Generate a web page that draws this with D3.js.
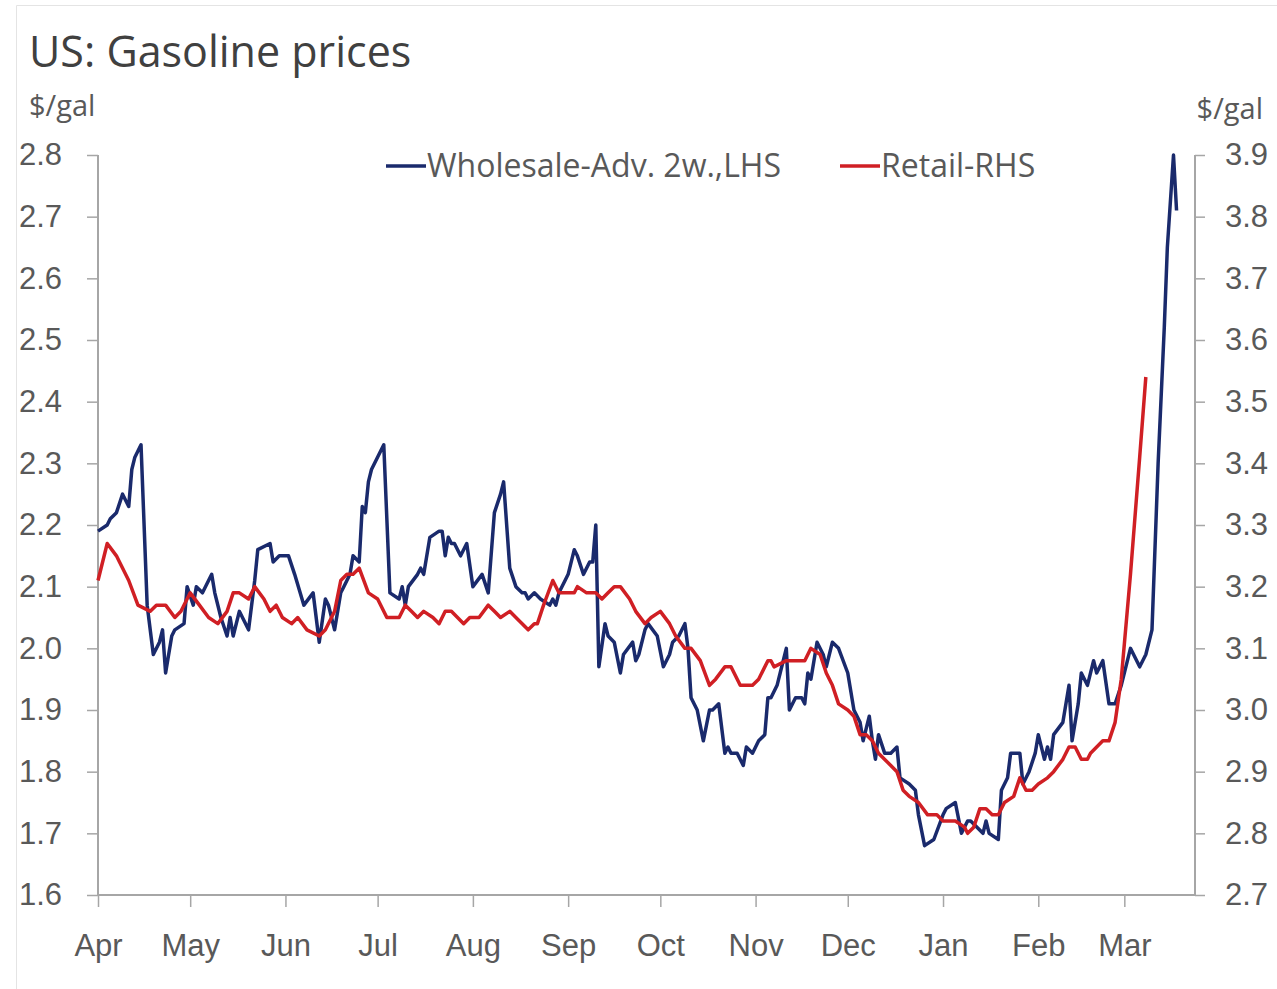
<!DOCTYPE html>
<meta charset="utf-8">
<title>US: Gasoline prices</title>
<style>
body { margin: 0; background: #fff; }
svg { display: block; font-family: "Open Sans", "Noto Sans", sans-serif; }
.tick text { fill: #595959; }
</style>
<body>
<svg></svg>
<script src="https://d3js.org/d3.v7.min.js"></script>
<script>

// days counted from 1 April, values in $/gal
var wholesaleDays = [0,3,4,6,8,10,11,12,14,16,18,20,21,22,24,25,28,29,31,32,34,37,38,40,42,43,44,46,49,51,52,56,57,59,62,64,67,70,72,74,75,77,79,80,82,83,85,86,87,88,89,93,95,98,99,100,101,104,105,106,108,111,112,113,114,115,116,118,120,122,125,127,129,131,132,134,136,138,139,140,142,144,147,148,149,150,152,153,155,156,158,160,161,162,163,165,166,168,170,171,174,175,176,178,179,182,184,186,187,189,191,192,193,195,197,199,200,202,204,205,206,208,210,211,213,215,217,218,219,221,222,224,225,227,229,230,231,232,233,234,236,237,238,239,241,244,246,248,249,251,252,253,254,256,258,260,261,264,266,267,269,272,275,276,279,281,283,284,288,289,290,293,294,296,297,300,301,303,305,306,308,309,310,311,314,316,317,319,320,322,324,325,327,329,331,333,336,339,341,343,345,347,348,350,351];
var wholesaleValues = [2.19,2.20,2.21,2.22,2.25,2.23,2.29,2.31,2.33,2.07,1.99,2.01,2.03,1.96,2.02,2.03,2.04,2.10,2.07,2.10,2.09,2.12,2.09,2.05,2.02,2.05,2.02,2.06,2.03,2.11,2.16,2.17,2.14,2.15,2.15,2.12,2.07,2.09,2.01,2.08,2.07,2.03,2.09,2.10,2.12,2.15,2.14,2.23,2.22,2.27,2.29,2.33,2.09,2.08,2.10,2.07,2.10,2.12,2.13,2.12,2.18,2.19,2.19,2.15,2.18,2.17,2.17,2.15,2.17,2.10,2.12,2.09,2.22,2.25,2.27,2.13,2.10,2.09,2.09,2.08,2.09,2.08,2.07,2.08,2.07,2.09,2.11,2.12,2.16,2.15,2.12,2.14,2.14,2.20,1.97,2.04,2.02,2.01,1.96,1.99,2.01,1.98,1.99,2.03,2.04,2.02,1.97,1.99,2.01,2.02,2.04,2.00,1.92,1.90,1.85,1.90,1.90,1.91,1.83,1.84,1.83,1.83,1.81,1.84,1.83,1.85,1.86,1.92,1.92,1.94,1.96,2.00,1.90,1.92,1.92,1.91,1.96,1.95,1.98,2.01,1.99,1.97,1.99,2.01,2.00,1.96,1.90,1.88,1.85,1.89,1.85,1.82,1.86,1.83,1.83,1.84,1.79,1.78,1.77,1.73,1.68,1.69,1.73,1.74,1.75,1.70,1.72,1.72,1.70,1.72,1.70,1.69,1.77,1.79,1.83,1.83,1.78,1.80,1.83,1.86,1.82,1.84,1.82,1.86,1.88,1.94,1.85,1.91,1.96,1.94,1.98,1.96,1.98,1.91,1.91,1.94,2.00,1.97,1.99,2.03,2.30,2.52,2.65,2.80,2.71];

var retailDays = [0,3,6,7,10,13,17,19,22,25,27,30,33,36,39,42,44,46,49,51,54,56,58,60,63,65,68,72,74,77,79,81,83,85,88,91,94,98,100,102,104,106,109,111,113,115,117,119,121,124,127,129,131,134,136,140,142,143,145,148,150,151,155,156,159,162,164,166,168,170,173,175,178,180,183,186,188,191,193,196,199,201,204,206,209,213,215,218,219,220,224,226,230,232,235,237,239,241,244,246,248,250,252,254,258,260,262,264,267,270,273,275,279,282,283,285,287,289,291,293,295,298,300,302,304,306,309,311,314,316,318,320,322,323,327,329,331,333,336,339,341];
var retailValues = [3.21,3.27,3.25,3.24,3.21,3.17,3.16,3.17,3.17,3.15,3.16,3.19,3.17,3.15,3.14,3.16,3.19,3.19,3.18,3.20,3.18,3.16,3.17,3.15,3.14,3.15,3.13,3.12,3.13,3.16,3.21,3.22,3.22,3.23,3.19,3.18,3.15,3.15,3.17,3.16,3.15,3.16,3.15,3.14,3.16,3.16,3.15,3.14,3.15,3.15,3.17,3.16,3.15,3.16,3.15,3.13,3.14,3.14,3.17,3.21,3.19,3.19,3.19,3.20,3.19,3.19,3.18,3.19,3.20,3.20,3.18,3.16,3.14,3.15,3.16,3.14,3.12,3.10,3.10,3.08,3.04,3.05,3.07,3.07,3.04,3.04,3.05,3.08,3.08,3.07,3.08,3.08,3.08,3.10,3.09,3.06,3.04,3.01,3.00,2.99,2.96,2.96,2.95,2.93,2.91,2.90,2.87,2.86,2.85,2.83,2.83,2.82,2.82,2.81,2.80,2.81,2.84,2.84,2.83,2.83,2.85,2.86,2.89,2.87,2.87,2.88,2.89,2.90,2.92,2.94,2.94,2.92,2.92,2.93,2.95,2.95,2.98,3.05,3.22,3.41,3.54];

var leftTicks = [1.6,1.7,1.8,1.9,2.0,2.1,2.2,2.3,2.4,2.5,2.6,2.7,2.8];
var rightTicks = [2.7,2.8,2.9,3.0,3.1,3.2,3.3,3.4,3.5,3.6,3.7,3.8,3.9];
var seriesNames = ["Wholesale-Adv. 2w.,LHS", "Retail-RHS"];
var seriesColors = ["#1a2a6c", "#d01f24"];

var width = 1277,
    height = 989,
    plotL = 98, plotR = 1195, plotT = 155, plotB = 895;

var startDate = new Date(2021, 3, 1);
function toDate(d) { return d3.timeDay.offset(startDate, d); }

var svg = d3.select("svg").attr("width", width).attr("height", height);

svg.append("rect").attr("width", width).attr("height", height).attr("fill", "#fff");
// faint frame from the screenshot
svg.append("path").attr("d", "M16.5," + height + "V5.5H" + width)
    .attr("fill", "none").attr("stroke", "#e4e4e4");

var x = d3.scaleTime()
    .domain([startDate, toDate(357)])
    .range([plotL, plotR]);
var yL = d3.scaleLinear().domain([1.6, 2.8]).range([plotB, plotT]);
var yR = d3.scaleLinear().domain([2.7, 3.9]).range([plotB, plotT]);

var axisColor = "#a6a6a6";

var gx = svg.append("g").attr("transform", "translate(0," + plotB + ")")
    .call(d3.axisBottom(x).ticks(d3.timeMonth.every(1)).tickFormat(d3.timeFormat("%b")).tickSize(12).tickPadding(27));
gx.select(".domain").remove();
gx.selectAll(".tick line").attr("stroke", axisColor).attr("stroke-width", 1.5);
gx.selectAll(".tick text").attr("font-size", 31).attr("dy", "0.71em");

var gl = svg.append("g").attr("transform", "translate(" + plotL + ",0)")
    .call(d3.axisLeft(yL).tickValues(leftTicks).tickFormat(d3.format(".1f")).tickSize(11).tickPadding(25));
gl.select(".domain").remove();
gl.selectAll(".tick line").attr("stroke", axisColor).attr("stroke-width", 1.5);
gl.selectAll(".tick text").attr("font-size", 31);

var gr = svg.append("g").attr("transform", "translate(" + plotR + ",0)")
    .call(d3.axisRight(yR).tickValues(rightTicks).tickFormat(d3.format(".1f")).tickSize(10).tickPadding(20));
gr.select(".domain").remove();
gr.selectAll(".tick line").attr("stroke", axisColor).attr("stroke-width", 1.5);
gr.selectAll(".tick text").attr("font-size", 31);

// axis frame lines
svg.append("path")
    .attr("d", "M" + plotL + "," + plotT + "V" + plotB + "H" + plotR + "V" + plotT)
    .attr("fill", "none").attr("stroke", axisColor).attr("stroke-width", 2);

var wholesale = wholesaleDays.map((d, i) => [toDate(d), wholesaleValues[i]]);
var retail = retailDays.map((d, i) => [toDate(d), retailValues[i]]);

var lineL = d3.line().x(d => x(d[0])).y(d => yL(d[1]));
var lineR = d3.line().x(d => x(d[0])).y(d => yR(d[1]));

svg.append("path").datum(wholesale)
    .attr("d", lineL)
    .attr("fill", "none").attr("stroke", seriesColors[0])
    .attr("stroke-width", 3.5).attr("stroke-linejoin", "round");

svg.append("path").datum(retail)
    .attr("d", lineR)
    .attr("fill", "none").attr("stroke", seriesColors[1])
    .attr("stroke-width", 3.5).attr("stroke-linejoin", "round");

// titles
svg.append("text").attr("x", 29).attr("y", 67)
    .attr("font-size", 43).attr("fill", "#404040").text("US: Gasoline prices");
svg.append("text").attr("x", 29).attr("y", 116)
    .attr("font-size", 29).attr("fill", "#595959").text("$/gal");
svg.append("text").attr("x", 1263).attr("y", 119).attr("text-anchor", "end")
    .attr("font-size", 29).attr("fill", "#595959").text("$/gal");

// legend
var legendX = [386, 840];
var legend = svg.append("g").selectAll("g")
    .data(seriesNames)
    .join("g")
    .attr("transform", (d, i) => "translate(" + legendX[i] + ",166)");
legend.append("line")
    .attr("x1", 0).attr("x2", 40)
    .attr("stroke", (d, i) => seriesColors[i]).attr("stroke-width", 3.5);
legend.append("text")
    .attr("x", 41).attr("dy", "0.35em")
    .attr("font-size", 32).attr("fill", "#595959")
    .text(d => d);

</script>
</body>
